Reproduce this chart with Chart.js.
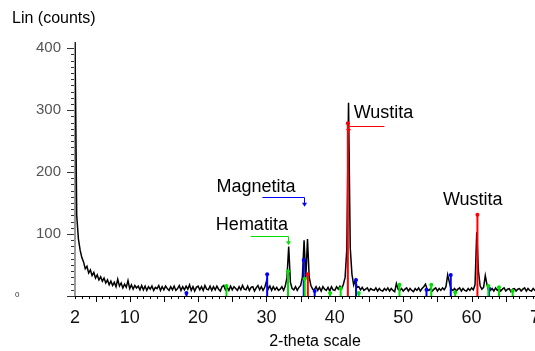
<!DOCTYPE html>
<html>
<head>
<meta charset="utf-8">
<script src="https://cdn.jsdelivr.net/npm/chart.js@4.4.1/dist/chart.umd.min.js"></script>
<style>
  html, body { margin: 0; padding: 0; background: #fff; overflow: hidden; }
  #wrap { width: 535px; height: 351px; overflow: hidden; }
</style>
</head>
<body>
<div id="wrap"><canvas id="chart" width="560" height="351"></canvas></div>
<script>
const FONT = '"Liberation Sans", Arial, sans-serif';

// scan: 2-theta from 2 to 70 deg, step 0.25
const SCAN_START = 2;
const SCAN_STEP = 0.25;
const counts = [
  410, 130, 92, 74, 62, 55, 44, 48, 37, 42, 33, 38, 29, 34, 26, 31, 24, 29, 21, 26,
  18, 24, 17, 22, 15, 27, 16, 21, 13, 19, 14, 25, 12, 18, 11, 17, 13, 16, 10, 17,
  10, 16, 9, 15, 11, 16, 9, 14, 12, 17, 9, 15, 10, 16, 12, 9, 15, 10, 16, 9,
  12, 17, 9, 15, 10, 16, 11, 18, 9, 15, 8, 14, 16, 10, 15, 9, 17, 11, 10, 16,
  9, 15, 10, 16, 11, 8, 15, 17, 10, 14, 9, 16, 10, 15, 12, 9, 15, 10, 17, 11,
  10, 16, 9, 14, 15, 8, 13, 17, 10, 15, 9, 14, 24, 11, 16, 9, 15, 10, 14, 9,
  11, 15, 9, 16, 30, 80, 22, 12, 10, 15, 9, 14, 17, 30, 90, 28, 92, 30, 17, 11,
  10, 15, 9, 14, 8, 15, 11, 9, 14, 8, 15, 10, 9, 15, 11, 16, 12, 19, 30, 76,
  312, 78, 35, 18, 26, 14, 15, 10, 14, 9, 11, 13, 8, 12, 10, 9, 13, 8, 12, 9,
  8, 12, 9, 13, 8, 12, 9, 7, 20, 11, 9, 12, 8, 11, 13, 8, 12, 9, 7, 12,
  9, 13, 8, 12, 15, 19, 11, 9, 12, 8, 11, 13, 8, 12, 9, 13, 10, 15, 34, 22,
  11, 9, 12, 8, 11, 13, 8, 12, 9, 8, 12, 9, 13, 10, 18, 103, 40, 16, 11, 14,
  33, 18, 11, 9, 12, 8, 13, 9, 12, 8, 11, 13, 8, 11, 12, 7, 11, 12, 8, 11,
  12, 8, 11, 13, 8, 12, 9, 8, 12, 9, 8, 12, 9
];
const angles = counts.map((_, i) => SCAN_START + i * SCAN_STEP);

// reference stick patterns
const hematitePos = [24.15, 33.15, 35.6, 39.3, 40.85, 43.5, 49.45, 54.1, 57.6, 62.45, 64.0, 66.0];
const hematiteH = [16, 40, 28, 5, 12, 5, 18, 18, 6, 16, 14, 8];
const magnetitePos = [18.3, 30.1, 35.45, 37.05, 43.1, 53.4, 56.95, 62.55];
const magnetiteH = [5, 35, 58, 8, 26, 10, 34, 12];
const wustitePos = [36.05, 41.9, 60.85];
const wustiteH = [35, 279, 131];

const xTicksShown = [2, 10, 20, 30, 40, 50, 60, 70];

const notes = [
  { text: 'Magnetita', tx: 22.7, ty: 168, x1: 29.4, x2: 35.45, ly: 160, tip: 144, color: '#0000ff' },
  { text: 'Hematita', tx: 22.6, ty: 106, x1: 27.7, x2: 33.15, ly: 97, tip: 82, color: '#00e000' },
  { text: 'Wustita', tx: 42.75, ty: 287, x1: 47.25, x2: 41.9, ly: 274, tip: 263, color: '#ff0000' },
  { text: 'Wustita', tx: 55.8, ty: 147, color: null }
];

function sticks(pos, h) {
  const pts = [];
  pos.forEach((p, i) => {
    pts.push({ x: p, y: 0 }, { x: p, y: h[i] }, { x: p, y: null });
  });
  return pts;
}

function stickSet(label, pos, h, color) {
  return {
    label,
    data: sticks(pos, h),
    borderColor: color,
    backgroundColor: color,
    borderWidth: 2,
    spanGaps: false,
    tension: 0,
    pointRadius: (c) => (c.raw && c.raw.y > 0 ? 2 : 0),
    pointBorderWidth: 0,
    order: 1,
  };
}

const xrdDecor = {
  id: 'xrdDecor',
  beforeDatasetsDraw(chart) {
    const { ctx, chartArea: a, scales: { x, y } } = chart;
    ctx.save();
    // x axis + ticks
    ctx.strokeStyle = '#000';
    ctx.lineWidth = 1;
    ctx.beginPath();
    ctx.moveTo(a.left - 7, a.bottom + 0.5);
    ctx.lineTo(chart.width, a.bottom + 0.5);
    x.ticks.forEach((t) => {
      const px = Math.round(x.getPixelForValue(t.value)) + 0.5;
      const len = t.value % 5 === 0 ? 6 : 3;
      ctx.moveTo(px, a.bottom);
      ctx.lineTo(px, a.bottom + len);
    });
    ctx.stroke();
    // y ticks
    ctx.strokeStyle = '#333';
    ctx.beginPath();
    y.ticks.forEach((t) => {
      if (t.value > 400) return;
      const py = Math.round(y.getPixelForValue(t.value)) + 0.5;
      const len = t.value % 100 === 0 ? 8 : 4;
      ctx.moveTo(a.left - len, py);
      ctx.lineTo(a.left, py);
    });
    ctx.stroke();
    // y axis line (grey)
    ctx.strokeStyle = '#999';
    ctx.lineWidth = 2;
    ctx.beginPath();
    ctx.moveTo(a.left, a.bottom);
    ctx.lineTo(a.left, a.top);
    ctx.stroke();
    // small zero label
    ctx.fillStyle = '#333';
    ctx.font = '8px ' + FONT;
    ctx.textAlign = 'left';
    ctx.textBaseline = 'middle';
    ctx.fillText('0', 15, y.getPixelForValue(0) - 1);
    ctx.restore();
  },
  afterDatasetsDraw(chart) {
    const { ctx, scales: { x, y } } = chart;
    ctx.save();
    ctx.font = '18px ' + FONT;
    ctx.textAlign = 'left';
    ctx.textBaseline = 'alphabetic';
    notes.forEach((n) => {
      ctx.fillStyle = '#000';
      ctx.fillText(n.text, x.getPixelForValue(n.tx), y.getPixelForValue(n.ty));
      if (!n.color) return;
      const ly = Math.round(y.getPixelForValue(n.ly)) + 0.5;
      const x1 = x.getPixelForValue(n.x1);
      const x2 = Math.round(x.getPixelForValue(n.x2)) + 0.5;
      const tip = y.getPixelForValue(n.tip);
      ctx.strokeStyle = n.color;
      ctx.fillStyle = n.color;
      ctx.lineWidth = 1;
      ctx.beginPath();
      ctx.moveTo(x1, ly);
      ctx.lineTo(x2, ly);
      ctx.lineTo(x2, tip - 3);
      ctx.stroke();
      ctx.beginPath();
      ctx.moveTo(x2 - 2.5, tip - 4);
      ctx.lineTo(x2 + 2.5, tip - 4);
      ctx.lineTo(x2, tip);
      ctx.closePath();
      ctx.fill();
    });
    // axis titles
    ctx.fillStyle = '#000';
    ctx.font = '16px ' + FONT;
    ctx.textBaseline = 'middle';
    ctx.fillText('Lin (counts)', 12, 19);
    ctx.textAlign = 'center';
    ctx.fillText('2-theta scale', 315, 342);
    ctx.restore();
  },
};

new Chart(document.getElementById('chart'), {
  type: 'line',
  data: {
    datasets: [
      {
        label: 'Lin (counts)',
        data: angles.map((a, i) => ({ x: a, y: counts[i] })),
        borderColor: '#000',
        borderWidth: 1.5,
        pointRadius: 0,
        tension: 0,
        order: 2,
      },
      stickSet('Hematita', hematitePos, hematiteH, '#00e000'),
      stickSet('Magnetita', magnetitePos, magnetiteH, '#0000ff'),
      stickSet('Wustita', wustitePos, wustiteH, '#ff0000'),
    ],
  },
  options: {
    responsive: false,
    animation: false,
    layout: { padding: { top: 42, right: 20, left: 0, bottom: 0 } },
    plugins: { legend: { display: false }, tooltip: { enabled: false } },
    scales: {
      x: {
        type: 'linear',
        min: 2,
        max: 70,
        grid: { display: false },
        border: { display: false },
        ticks: {
          stepSize: 1,
          autoSkip: false,
          maxRotation: 0,
          padding: 3,
          color: '#111',
          font: { family: FONT, size: 18 },
          callback: (v) => (xTicksShown.includes(v) ? String(v) : ''),
        },
        afterFit: (s) => { s.height = 55; },
      },
      y: {
        min: 0,
        max: 410,
        grid: { display: false },
        border: { display: false },
        ticks: {
          stepSize: 10,
          autoSkip: false,
          padding: 6,
          color: '#555',
          font: { family: FONT, size: 15 },
          callback: (v) => (v > 0 && v % 100 === 0 ? String(v) : ''),
        },
        afterFit: (s) => { s.width = 75; },
      },
    },
  },
  plugins: [xrdDecor],
});
</script>
</body>
</html>
